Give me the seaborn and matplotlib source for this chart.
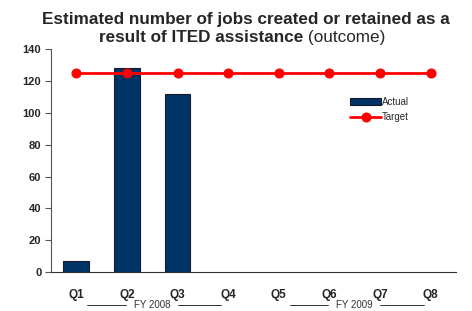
import numpy as np
import pandas as pd
import seaborn as sns
import matplotlib.pyplot as plt

quarters = ['Q1', 'Q2', 'Q3', 'Q4', 'Q5', 'Q6', 'Q7', 'Q8']
actual = [7, 128, 112, np.nan, np.nan, np.nan, np.nan, np.nan]
target = [125, 125, 125, 125, 125, 125, 125, 125]
fiscal_years = ['FY 2008', 'FY 2009']

df = pd.DataFrame({'Quarter': quarters, 'Actual': actual, 'Target': target})

sns.set_style('white')
plt.rcParams['font.family'] = ['Liberation Sans', 'DejaVu Sans']

fig = plt.figure(figsize=(4.72, 3.11), dpi=100)
ax = fig.add_axes([0.108, 0.125, 0.858, 0.717])

sns.barplot(data=df, x='Quarter', y='Actual', color='#003366', width=0.51,
            edgecolor='#1a1a2e', linewidth=0.8, label='Actual', ax=ax, saturation=1)
sns.lineplot(x=range(len(quarters)), y=df['Target'], color='#ff0000', linewidth=2,
             marker='o', markersize=6.5, markeredgecolor='#ff0000', label='Target', ax=ax)

ax.set_xlim(-0.5, 7.5)
ax.set_ylim(0, 140)
ax.set_yticks(range(0, 141, 20))
ax.set_xlabel('')
ax.set_ylabel('')
ax.tick_params(axis='y', length=4, width=0.8, color='#555555', labelsize=8, pad=3, left=True)
ax.tick_params(axis='x', length=0, labelsize=8.5, pad=12)
for lbl in ax.get_xticklabels() + ax.get_yticklabels():
    lbl.set_fontweight('bold')
sns.despine(ax=ax)
ax.spines['left'].set_color('#555555')
ax.spines['left'].set_linewidth(0.8)
ax.spines['bottom'].set_color('#333333')
ax.spines['bottom'].set_linewidth(0.8)

handles, labels = ax.get_legend_handles_labels()
order = [labels.index('Actual'), labels.index('Target')]
ax.legend([handles[i] for i in order], [labels[i] for i in order],
          loc='upper left', bbox_to_anchor=(0.717, 0.825), frameon=False,
          fontsize=7, handlelength=3.2, handletextpad=0.1, labelspacing=0.55)

# fiscal year group labels under the quarters
trans = ax.get_xaxis_transform()
for i, fy in enumerate(fiscal_years):
    center = 1.5 + 4 * i
    ax.text(center, -0.148, fy, transform=trans, ha='center',
            va='center', fontsize=7, color='#333333')
    for x0, x1 in [(center - 1.28, center - 0.52), (center + 0.5, center + 1.36)]:
        ax.plot([x0, x1], [-0.148, -0.148], transform=trans,
                color='#333333', linewidth=0.7, clip_on=False)

fig.text(0.52, 0.936, 'Estimated number of jobs created or retained as a',
         ha='center', va='center', fontsize=12.3, fontweight='bold')
t1 = fig.text(0, 0.881, 'result of ITED assistance ', ha='left', va='center',
              fontsize=12.3, fontweight='bold')
t2 = fig.text(0, 0.881, '(outcome)', ha='left', va='center', fontsize=12.3)
fig.canvas.draw()
r = fig.canvas.get_renderer()
w1 = t1.get_window_extent(r).width / fig.bbox.width
w2 = t2.get_window_extent(r).width / fig.bbox.width
start = 0.513 - (w1 + w2) / 2
t1.set_x(start)
t2.set_x(start + w1)

fig.savefig('out.png', dpi=100)
